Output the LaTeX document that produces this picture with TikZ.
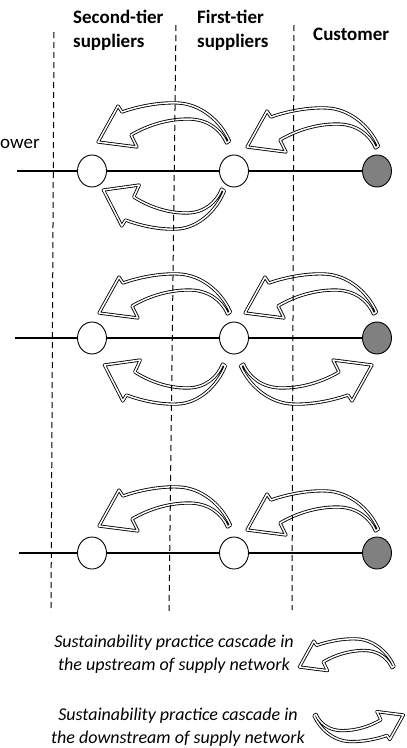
\documentclass[tikz,border=0pt]{standalone}
\usepackage{fontspec}
\setmainfont{Carlito}
\usetikzlibrary{shapes.geometric}

% one curved block arrow, tail at the origin, head to the left
\tikzset{
  cascade/.pic={
    \path[arrowband] (1.5,-1) .. controls (-8,-22) and (-28,-38) .. (-50,-39)
      .. controls (-70,-40) and (-92,-35) .. (-106,-30) -- (-110,-36) -- (-130,0)
      -- (-91,5) -- (-97,-7) .. controls (-80,-17) and (-60,-23) .. (-40,-23)
      .. controls (-20,-23) and (-7,-12) .. (-1.5,1) -- cycle;
  }
}

\begin{document}
\begin{tikzpicture}[x=1pt, y=-1pt,
    tier/.style={font=\fontsize{19}{24}\selectfont\bfseries, align=left, inner sep=0pt},
    firm/.style={ellipse, draw, line width=0.9pt, fill=white, minimum width=29pt, minimum height=32pt, inner sep=0pt},
    custfirm/.style={firm, fill=black!50},
    arrowband/.style={draw=black, fill=white, double=white, double distance=1.5pt, line width=0.85pt, line join=round},
    link/.style={line width=2.2pt},
    border/.style={dash pattern=on 6pt off 4pt, line width=1pt},
    legend/.style={font=\fontsize{18}{23}\selectfont\itshape, align=center, inner sep=0pt}]
  \useasboundingbox (0,0) rectangle (407,748);

  % column heads
  \node[tier, anchor=base west] (second) at (73,47) {Second-tier\\suppliers};
  \node[tier, anchor=base west] (first) at (197,47) {First-tier\\suppliers};
  \node[tier, anchor=base west] (cust) at (313,40) {Customer};
  \node[font=\fontsize{19}{24}\selectfont, anchor=base west, inner sep=0pt] (power) at (0,148) {ower};

  % row 1
  \coordinate (e1) at (17,171);
  \node[firm] (s1) at (92,171) {};
  \node[firm] (f1) at (234,171) {};
  \node[custfirm] (c1) at (377,171) {};
  \draw[link] (e1) -- (s1);
  \draw[link] (s1) -- (f1);
  \draw[link] (f1) -- (c1);
  \pic at (228,142) {cascade};
  \pic at (377,147) {cascade};
  \pic[yscale=-1, xscale=0.92] at (223,190) {cascade};

  % row 2
  \coordinate (e2) at (15,338);
  \node[firm] (s2) at (92,338) {};
  \node[firm] (f2) at (234,338) {};
  \node[custfirm] (c2) at (377,338) {};
  \draw[link] (e2) -- (s2);
  \draw[link] (s2) -- (f2);
  \draw[link] (f2) -- (c2);
  \pic at (229,313) {cascade};
  \pic at (375,313) {cascade};
  \pic[yscale=-1, xscale=0.92] at (224,365) {cascade};
  \pic[rotate=180] at (242,365) {cascade};

  % row 3
  \coordinate (e3) at (19,553);
  \node[firm] (s3) at (92,553) {};
  \node[firm] (f3) at (234,553) {};
  \node[custfirm] (c3) at (377,553) {};
  \draw[link] (e3) -- (s3);
  \draw[link] (s3) -- (f3);
  \draw[link] (f3) -- (c3);
  \pic at (229,526) {cascade};
  \pic at (377,530) {cascade};

  % tier borders
  \coordinate (t1) at (54,32);
  \coordinate (b1) at (51,612);
  \coordinate (t2) at (176,25);
  \coordinate (b2) at (169,613);
  \coordinate (t3) at (294,25);
  \coordinate (b3) at (292,610);
  \draw[border] (t1) -- (b1);
  \draw[border] (t2) -- (b2);
  \draw[border] (t3) -- (b3);

  % legend
  \node[legend, anchor=base] (upleg) at (174,670) {Sustainability practice cascade in\\the upstream of supply network};
  \pic[scale=0.72] at (393,667) {cascade};
  \node[legend, anchor=base] (downleg) at (178,743) {Sustainability practice cascade in\\the downstream of supply network};
  \pic[rotate=180, scale=0.68] at (315,715) {cascade};
\end{tikzpicture}
\end{document}
